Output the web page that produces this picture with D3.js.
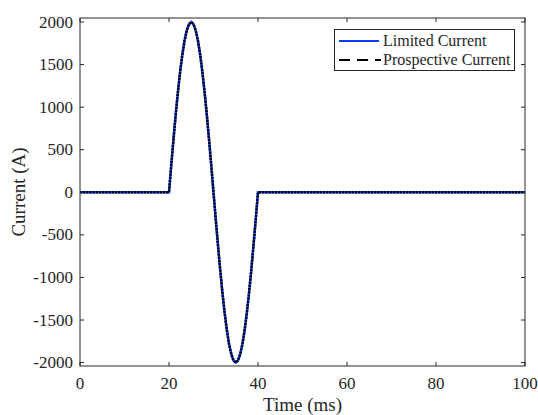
<!DOCTYPE html>
<html>
<head>
<meta charset="utf-8">
<script src="https://cdn.jsdelivr.net/npm/d3@7"></script>
<style>
  body { margin: 0; background: #fff; }
  svg text { font-family: "Liberation Serif", "Times New Roman", serif; fill: #262626; }
</style>
</head>
<body>
<div id="graph"></div>
<script>
// time samples (ms)
var timeMs = [0, 20, 20.5, 21, 21.5, 22, 22.5, 23, 23.5, 24, 24.5, 25, 25.5, 26, 26.5, 27, 27.5,
  28, 28.5, 29, 29.5, 30, 30.5, 31, 31.5, 32, 32.5, 33, 33.5, 34, 34.5, 35, 35.5, 36, 36.5,
  37, 37.5, 38, 38.5, 39, 39.5, 40, 100];

// current (A)
var limitedCurrent = [0, 0, 313, 618, 908, 1176, 1414, 1618, 1782, 1902, 1975, 2000, 1975, 1902,
  1782, 1618, 1414, 1176, 908, 618, 313, 0, -313, -618, -908, -1176, -1414, -1618, -1782,
  -1902, -1975, -2000, -1975, -1902, -1782, -1618, -1414, -1176, -908, -618, -313, 0, 0];
var prospectiveCurrent = [0, 0, 313, 618, 908, 1176, 1414, 1618, 1782, 1902, 1975, 2000, 1975, 1902,
  1782, 1618, 1414, 1176, 908, 618, 313, 0, -313, -618, -908, -1176, -1414, -1618, -1782,
  -1902, -1975, -2000, -1975, -1902, -1782, -1618, -1414, -1176, -908, -618, -313, 0, 0];

var xTicks = [0, 20, 40, 60, 80, 100];
var yTicks = [-2000, -1500, -1000, -500, 0, 500, 1000, 1500, 2000];
var seriesNames = ['Limited Current', 'Prospective Current'];

var w = 538, h = 415;
var pL = 80, pR = 525, pT = 18, pB = 366;

var svg = d3.select('#graph').append('svg')
  .attr('width', w)
  .attr('height', h);

var x = d3.scaleLinear().domain([0, 100]).range([pL, pR]);
var y = d3.scaleLinear().domain([-2040, 2047]).range([pB, pT]);

var axisColor = '#262626';
var tickLen = 4;

// lines
var line = d3.line()
  .x(function(d) { return x(d[0]); })
  .y(function(d) { return y(d[1]); });

svg.append('path')
  .datum(timeMs.map(function(t, i) { return [t, limitedCurrent[i]]; }))
  .attr('d', line)
  .attr('fill', 'none')
  .attr('stroke', '#0b3dff')
  .attr('stroke-width', 2.5);

svg.append('path')
  .datum(timeMs.map(function(t, i) { return [t, prospectiveCurrent[i]]; }))
  .attr('d', line)
  .attr('fill', 'none')
  .attr('stroke', '#000')
  .attr('stroke-width', 2.5)
  .attr('stroke-dasharray', '2,1.2');

// box
svg.append('rect')
  .attr('x', pL).attr('y', pT)
  .attr('width', pR - pL).attr('height', pB - pT)
  .attr('fill', 'none')
  .attr('stroke', axisColor)
  .attr('stroke-width', 1);

// ticks (inward, both sides)
var xt = svg.append('g');
xTicks.forEach(function(v) {
  xt.append('line').attr('x1', x(v)).attr('x2', x(v)).attr('y1', pB).attr('y2', pB - tickLen)
    .attr('stroke', axisColor);
  xt.append('line').attr('x1', x(v)).attr('x2', x(v)).attr('y1', pT).attr('y2', pT + tickLen)
    .attr('stroke', axisColor);
  xt.append('text').attr('x', x(v)).attr('y', 389)
    .attr('text-anchor', 'middle').attr('font-size', '17px').text(v);
});

var yt = svg.append('g');
yTicks.forEach(function(v) {
  yt.append('line').attr('x1', pL).attr('x2', pL + tickLen).attr('y1', y(v)).attr('y2', y(v))
    .attr('stroke', axisColor);
  yt.append('line').attr('x1', pR).attr('x2', pR - tickLen).attr('y1', y(v)).attr('y2', y(v))
    .attr('stroke', axisColor);
  yt.append('text').attr('x', pL - 7).attr('y', y(v) + 5.5)
    .attr('text-anchor', 'end').attr('font-size', '17px').text(v);
});

// axis labels
svg.append('text')
  .attr('x', (pL + pR) / 2).attr('y', 411)
  .attr('text-anchor', 'middle').attr('font-size', '19px')
  .text('Time (ms)');

svg.append('text')
  .attr('transform', 'translate(25,' + ((pT + pB) / 2) + ') rotate(-90)')
  .attr('text-anchor', 'middle').attr('font-size', '19px')
  .text('Current (A)');

// legend
var lg = svg.append('g');
lg.append('rect')
  .attr('x', 334.5).attr('y', 29.5).attr('width', 180).attr('height', 41)
  .attr('fill', '#fff').attr('stroke', axisColor);
lg.append('line').attr('x1', 339).attr('x2', 379).attr('y1', 41).attr('y2', 41)
  .attr('stroke', '#0b3dff').attr('stroke-width', 2);
lg.append('line').attr('x1', 339).attr('x2', 381).attr('y1', 60).attr('y2', 60)
  .attr('stroke', '#000').attr('stroke-width', 2).attr('stroke-dasharray', '11,7');
lg.selectAll('text.leg')
  .data(seriesNames)
  .enter()
  .append('text')
  .attr('class', 'leg')
  .attr('x', 383)
  .attr('y', function(d, i) { return 46 + i * 19; })
  .attr('font-size', '16px')
  .text(function(d) { return d; });
</script>
</body>
</html>
